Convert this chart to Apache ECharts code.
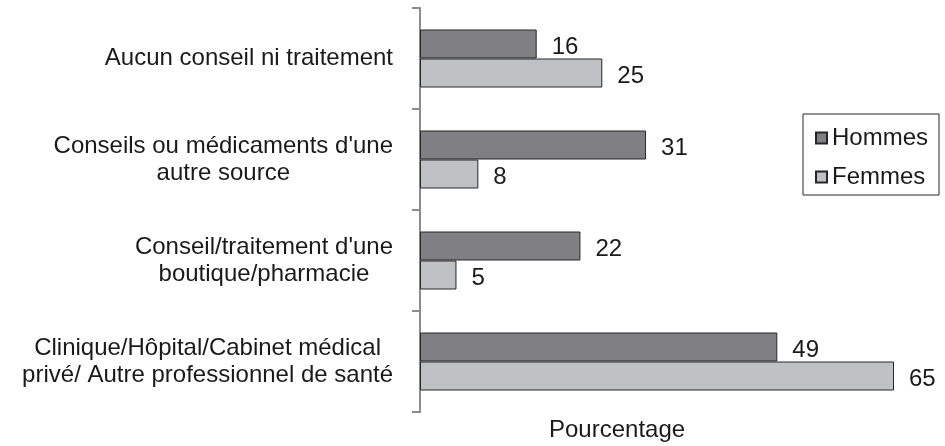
<!DOCTYPE html>
<html>
<head>
<meta charset="utf-8">
<script src="https://cdn.jsdelivr.net/npm/echarts@6/dist/echarts.min.js"></script>
<style>
  html, body { margin: 0; padding: 0; background: #fff; }
  #chart { width: 945px; height: 446px; }
</style>
</head>
<body>
<div id="chart"></div>
<script>
const categories = [
  'Aucun conseil ni traitement',
  "Conseils ou médicaments d'une\nautre source",
  "Conseil/traitement d'une\nboutique/pharmacie",
  'Clinique/Hôpital/Cabinet médical\nprivé/ Autre professionnel de santé'
]
const seriesNames = ['Hommes', 'Femmes']
const hommes = [16, 31, 22, 49]
const femmes = [25, 8, 5, 65]
const axisTitle = 'Pourcentage'

const font = 'Liberation Sans, Arial, sans-serif'
const textColor = '#1a1a1a'
const colors = ['#808084', '#c0c1c4']

const chart = echarts.init(document.getElementById('chart'))

const barLabel = {
  show: true,
  position: 'right',
  distance: 15,
  offset: [0, 3],
  fontSize: 24,
  fontFamily: font,
  color: textColor,
}

const option = {
  animation: false,
  backgroundColor: '#fff',
  title: {
    text: axisTitle,
    left: 549,
    top: 418,
    padding: 0,
    textStyle: {
      fontSize: 24,
      fontWeight: 'normal',
      fontFamily: font,
      color: textColor,
    },
  },
  legend: {
    data: seriesNames,
    orient: 'vertical',
    left: 803,
    top: 114,
    padding: [12, 11, 6, 12],
    itemGap: 15,
    itemWidth: 11,
    itemHeight: 11,
    icon: 'rect',
    borderColor: '#262626',
    borderWidth: 1,
    textStyle: {
      fontSize: 24,
      fontFamily: font,
      color: textColor,
    },
  },
  grid: {
    left: 420,
    right: 51,
    top: 8,
    bottom: 34,
  },
  xAxis: {
    type: 'value',
    min: 0,
    max: 65,
    axisLine: { show: false },
    axisTick: { show: false },
    axisLabel: { show: false },
    splitLine: { show: false },
  },
  yAxis: {
    type: 'category',
    inverse: true,
    data: categories,
    axisLine: {
      show: true,
      lineStyle: { color: '#8c8c8c', width: 2 },
    },
    axisTick: {
      show: true,
      length: 8,
      lineStyle: { color: '#8c8c8c', width: 2 },
    },
    axisLabel: {
      interval: 0,
      align: 'right',
      margin: 27,
      formatter: (value) => value.split('\n').map((line) => '{c|' + line + '}').join('\n'),
      rich: {
        c: {
          align: 'center',
          fontSize: 24,
          lineHeight: 27,
          fontFamily: font,
          color: textColor,
        },
      },
    },
  },
  series: [
    {
      name: seriesNames[0],
      type: 'bar',
      data: hommes,
      barWidth: 29,
      barGap: '0%',
      itemStyle: { color: colors[0], borderColor: '#262626', borderWidth: 1 },
      label: barLabel,
    },
    {
      name: seriesNames[1],
      type: 'bar',
      data: femmes,
      barWidth: 29,
      barGap: '0%',
      itemStyle: { color: colors[1], borderColor: '#262626', borderWidth: 1 },
      label: barLabel,
    },
  ],
}

chart.setOption(option)
</script>
</body>
</html>
